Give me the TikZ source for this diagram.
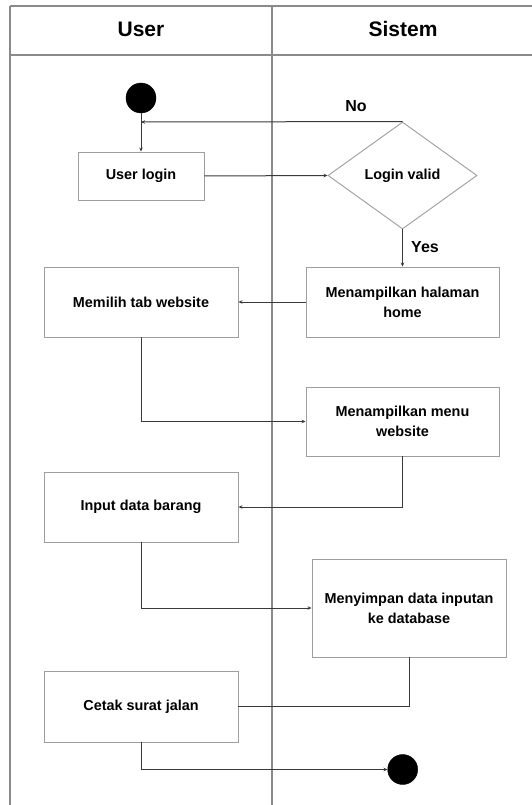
\documentclass[tikz,border=0pt]{standalone}
\usepackage{fontspec}
\setmainfont{Liberation Sans}
\usetikzlibrary{shapes.geometric,arrows.meta}
\definecolor{framegray}{HTML}{8A8A8A}
\definecolor{boxgray}{HTML}{9E9E9E}
\definecolor{linegray}{HTML}{3A3A3A}
\tikzset{
  lane/.style={draw=framegray, line width=1.1pt},
  action/.style={draw=boxgray, line width=0.9pt, rectangle, align=center,
    inner sep=2pt, font=\fontsize{14.4}{20}\selectfont\bfseries},
  decision/.style={draw=boxgray, line width=0.9pt, diamond, inner sep=0pt,
    minimum width=149pt, minimum height=107pt, font=\fontsize{14.4}{20}\selectfont\bfseries},
  terminal/.style={circle, fill=black, draw=black, minimum size=30pt, inner sep=0pt},
  flow/.style={draw=linegray, line width=1pt, -{Stealth[length=4pt,width=3.5pt]}},
  plainflow/.style={draw=linegray, line width=1pt},
  header/.style={font=\fontsize{21}{24}\selectfont\bfseries},
  guard/.style={font=\fontsize{16}{18}\selectfont\bfseries}
}
\begin{document}
\begin{tikzpicture}[x=1pt, y=-1pt]
\useasboundingbox (0,0) rectangle (532,805);
\fill[white] (0,0) rectangle (532,805);

% swimlane frame
\draw[lane] (10,6) -- (532,6);
\draw[lane] (10,55) -- (532,55);
\draw[lane] (10,6) -- (10,805);
\draw[lane] (272,6) -- (272,805);
\node[header] (huser) at (141,29) {User};
\node[header] (hsistem) at (403,29) {Sistem};

% activities
\node[terminal] (start) at (141,98) {};
\node[action, minimum width=126pt, minimum height=48pt] (login) at (141,176) {User login};
\node[decision] (valid) at (402.5,175.5) {Login valid};
\node[action, minimum width=193pt, minimum height=70pt] (home) at (402.5,302) {Menampilkan halaman\\home};
\node[action, minimum width=194pt, minimum height=70pt] (tab) at (141,302) {Memilih tab website};
\node[action, minimum width=193pt, minimum height=69pt] (menu) at (402.5,421.5) {Menampilkan menu\\website};
\node[action, minimum width=194pt, minimum height=70pt] (input) at (141,507) {Input data barang};
\node[action, minimum width=194pt, minimum height=98pt] (save) at (409,608) {Menyimpan data inputan\\ke database};
\node[action, minimum width=194pt, minimum height=71pt] (print) at (141,706.5) {Cetak surat jalan};
\node[terminal] (end) at (402.7,769.5) {};

\coordinate (retry) at (141,122);

% connectors
\draw[flow] (start) -- (login);
\draw[flow] (valid.north) -- (retry);
\node[guard] (no) at (356,106) {No};
\draw[flow] (login.east) -- (valid.west);
\draw[flow] (valid.south) -- (home.north);
\node[guard] (yes) at (425,247) {Yes};
\draw[flow] (home.west) -- (tab.east);
\draw[flow] (tab.south) |- (menu.west);
\draw[flow] (menu.south) |- (input.east);
\draw[flow] (input.south) |- (save.west);
\draw[plainflow] (save.south) |- (print.east);
\draw[flow] (print.south) |- (end.west);
\end{tikzpicture}
\end{document}
